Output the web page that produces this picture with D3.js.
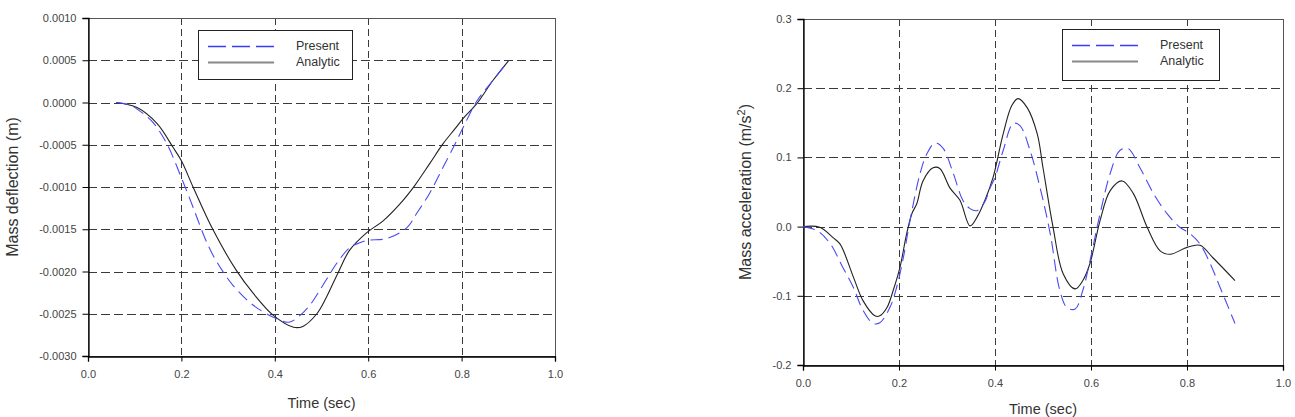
<!DOCTYPE html>
<html><head><meta charset="utf-8">
<script src="https://cdn.jsdelivr.net/npm/d3@7"></script>
<style>
body{margin:0;background:#fff;}
text{font-family:"Liberation Sans",Arial,sans-serif;}
</style></head>
<body><svg id="c" width="1295" height="417"></svg>
<script>
// ---------- Data ----------
const seriesNames = ["Present", "Analytic"];
// Left: Mass deflection (m) vs time (sec)
const deflPresentT = [0.06,0.09,0.118,0.14,0.169,0.2,0.225,0.25,0.268,0.29,0.31,0.354,0.397,0.43,0.454,0.475,0.51,0.533,0.56,0.582,0.6,0.64,0.683,0.704,0.732,0.76,0.786,0.803,0.833,0.867,0.9];
const deflPresentV = [0,-0.00003,-0.00013,-0.00024,-0.00049,-0.00089,-0.00124,-0.0016,-0.00181,-0.00201,-0.00216,-0.0024,-0.00254,-0.0026,-0.00252,-0.0024,-0.0021,-0.0019,-0.00172,-0.00166,-0.00163,-0.00161,-0.00148,-0.00131,-0.00107,-0.00077,-0.00049,-0.0003,0.00002,0.00026,0.00049];
const deflAnalyticT = [0.06,0.105,0.148,0.182,0.2,0.225,0.268,0.318,0.354,0.397,0.44,0.46,0.49,0.51,0.535,0.56,0.597,0.632,0.668,0.7,0.732,0.76,0.786,0.803,0.833,0.867,0.9];
const deflAnalyticV = [0,-0.00006,-0.00025,-0.00053,-0.00069,-0.001,-0.00151,-0.00199,-0.00226,-0.00252,-0.00266,-0.00265,-0.0025,-0.00231,-0.00202,-0.00175,-0.00154,-0.0014,-0.0012,-0.00098,-0.00072,-0.00049,-0.00031,-0.00019,-0.00001,0.00026,0.00049];
// Right: Mass acceleration (m/s^2) vs time (sec)
const accPresentT = [0,0.03,0.057,0.083,0.105,0.125,0.146,0.16,0.181,0.195,0.209,0.223,0.244,0.258,0.275,0.292,0.313,0.333,0.348,0.362,0.378,0.39,0.4,0.417,0.438,0.452,0.473,0.494,0.515,0.535,0.55,0.567,0.583,0.598,0.619,0.64,0.66,0.677,0.702,0.73,0.758,0.785,0.806,0.827,0.848,0.869,0.9];
const accPresentV = [0,-0.006,-0.025,-0.059,-0.088,-0.121,-0.14,-0.139,-0.117,-0.088,-0.045,0.009,0.077,0.105,0.121,0.113,0.077,0.038,0.026,0.023,0.035,0.056,0.071,0.11,0.149,0.146,0.11,0.056,-0.01,-0.092,-0.117,-0.119,-0.092,-0.049,0.019,0.077,0.11,0.113,0.085,0.048,0.019,-0.001,-0.01,-0.025,-0.053,-0.088,-0.14];
const accAnalyticT = [0,0.035,0.0625,0.077,0.105,0.125,0.15,0.16,0.175,0.188,0.202,0.216,0.227,0.237,0.25,0.271,0.285,0.306,0.327,0.348,0.362,0.379,0.396,0.417,0.435,0.448,0.467,0.488,0.5,0.521,0.542,0.567,0.583,0.598,0.619,0.64,0.665,0.688,0.717,0.744,0.765,0.8,0.827,0.854,0.9];
const accAnalyticV = [0,-0.001,-0.016,-0.025,-0.073,-0.107,-0.129,-0.129,-0.117,-0.092,-0.059,-0.01,0.019,0.033,0.066,0.085,0.084,0.056,0.038,0.001,0.013,0.038,0.071,0.134,0.175,0.185,0.172,0.134,0.085,-0.001,-0.068,-0.09,-0.078,-0.053,0.009,0.052,0.066,0.048,-0.001,-0.035,-0.04,-0.03,-0.027,-0.045,-0.078];
const timeTicks = [0.0,0.2,0.4,0.6,0.8,1.0];
const deflTicks = [0.0010,0.0005,0.0000,-0.0005,-0.0010,-0.0015,-0.0020,-0.0025,-0.0030];
const accTicks = [0.3,0.2,0.1,0.0,-0.1,-0.2];

const svg = d3.select("#c");
const zip = (t,v) => t.map((d,i)=>[d,v[i]]);
const hy = f => d => f(d).replace("\u2212","-");

function chart(o){
  const x = d3.scaleLinear().domain([0,1]).range([o.x0,o.x1]);
  const y = d3.scaleLinear().domain(o.yDomain).range([o.y1,o.y0]);
  const g = svg.append("g");
  // grid
  g.selectAll(".hg").data(o.yTicks.filter(v=>v!==o.yDomain[0]&&v!==o.yDomain[1])).enter().append("line")
    .attr("x1",o.x0).attr("x2",o.x1).attr("y1",d=>Math.round(y(d))+0.5).attr("y2",d=>Math.round(y(d))+0.5)
    .attr("stroke","#3a3a3a").attr("stroke-dasharray","9,4");
  g.selectAll(".vg").data(timeTicks.filter(v=>v>0&&v<1)).enter().append("line")
    .attr("y1",o.y0).attr("y2",o.y1).attr("x1",d=>Math.round(x(d))+0.5).attr("x2",d=>Math.round(x(d))+0.5)
    .attr("stroke","#3a3a3a").attr("stroke-dasharray","7,4");
  // frame
  g.append("rect").attr("x",o.x0+0.5).attr("y",o.y0+0.5).attr("width",o.x1-o.x0).attr("height",o.y1-o.y0)
    .attr("fill","none").attr("stroke","#555");
  // axes
  const ya = g.append("g").attr("transform",`translate(${o.x0+0.5},0)`)
    .call(d3.axisLeft(y).tickValues(o.yTicks).tickFormat(hy(o.yFmt)).tickSize(6).tickPadding(6));
  const xa = g.append("g").attr("transform",`translate(0,${o.y1+0.5})`)
    .call(d3.axisBottom(x).tickValues(timeTicks).tickFormat(d3.format(".1f")).tickSize(5).tickPadding(9));
  [ya,xa].forEach(a=>{
    a.select(".domain").attr("stroke","#000").attr("stroke-width",1.3);
    a.selectAll(".tick line").attr("stroke","#000");
    a.selectAll("text").attr("font-size",11).attr("fill","#444").attr("font-family","Liberation Sans, Arial, sans-serif");
  });
  // lines
  const line = d3.line().x(d=>x(d[0])).y(d=>y(d[1])).curve(d3.curveCatmullRom.alpha(0.5));
  g.append("path").datum(o.analytic).attr("d",line).attr("fill","none").attr("stroke","#222").attr("stroke-width",1.1);
  g.append("path").datum(o.present).attr("d",line).attr("fill","none").attr("stroke","#4a4af0").attr("stroke-width",1.1).attr("stroke-dasharray","12,6");
  // legend
  const L = o.legend;
  g.append("rect").attr("x",L.x+0.5).attr("y",L.y+0.5).attr("width",L.w).attr("height",L.h).attr("fill","#fff").attr("stroke","#222");
  g.append("line").attr("x1",L.x+10).attr("x2",L.x+76).attr("y1",L.y+16.5).attr("y2",L.y+16.5)
    .attr("stroke","#3c3cf5").attr("stroke-width",1.3).attr("stroke-dasharray","18,6");
  g.append("line").attr("x1",L.x+10).attr("x2",L.x+76).attr("y1",L.y+32.5).attr("y2",L.y+32.5)
    .attr("stroke","#888").attr("stroke-width",2);
  seriesNames.forEach((n,i)=>{
    g.append("text").attr("x",L.tx).attr("y",L.y+20+i*16).attr("font-size",12.5).attr("fill","#333").text(n);
  });
  // titles
  g.append("text").attr("x",(o.x0+o.x1)/2).attr("y",o.xty).attr("text-anchor","middle").attr("font-size",14.5).attr("fill","#333").text("Time (sec)");
  const yt = g.append("text").attr("transform",`translate(${o.ytx},${(o.y0+o.y1)/2}) rotate(-90)`)
    .attr("text-anchor","middle").attr("font-size",16).attr("fill","#333");
  o.yTitle(yt);
}

chart({x0:88,x1:555,y0:18,y1:356,yDomain:[-0.003,0.001],yTicks:deflTicks,yFmt:d3.format(".4f"),
  present:zip(deflPresentT,deflPresentV),analytic:zip(deflAnalyticT,deflAnalyticV),
  legend:{x:198,y:30,w:154,h:49,tx:296},ytx:18,xty:408,
  yTitle:t=>t.text("Mass deflection (m)")});
chart({x0:803,x1:1283,y0:19,y1:365,yDomain:[-0.2,0.3],yTicks:accTicks,yFmt:d3.format(".1f"),
  present:zip(accPresentT,accPresentV),analytic:zip(accAnalyticT,accAnalyticV),
  legend:{x:1062,y:29,w:157,h:51,tx:1160},ytx:751,xty:414,
  yTitle:t=>{t.append("tspan").text("Mass acceleration (m/s");t.append("tspan").attr("dy",-6).attr("font-size",11).text("2");t.append("tspan").attr("dy",6).text(")");}});
</script></body></html>
